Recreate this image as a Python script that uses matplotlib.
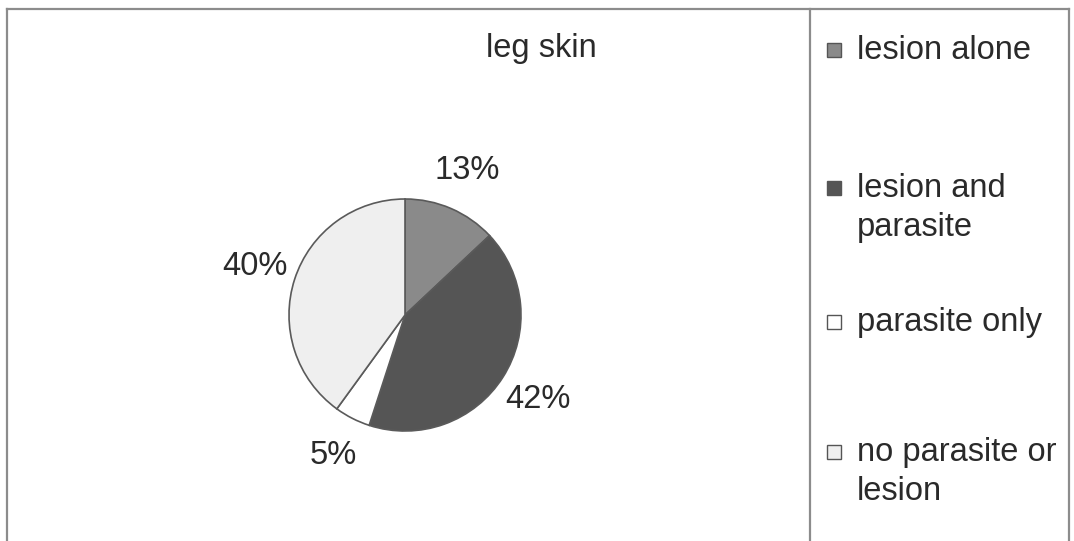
import matplotlib
matplotlib.use("Agg")
import matplotlib.pyplot as plt
from matplotlib.lines import Line2D

categories = ["lesion alone", "lesion and\nparasite", "parasite only", "no parasite or\nlesion"]
values = [13, 42, 5, 40]
colors = ["#8a8a8a", "#555555", "#ffffff", "#efefef"]
title = "leg skin"

plt.rcParams['font.family'] = ['Liberation Sans', 'DejaVu Sans']

W, H = 1074, 541
fig = plt.figure(figsize=(W / 100, H / 100), dpi=100)
fig.patch.set_facecolor("white")

def fx(px): return px / W
def fy(py): return 1 - py / H
border = "#8c8c8c"
fig.add_artist(Line2D([fx(7), fx(1069)], [fy(9), fy(9)], color=border, lw=1.6))
fig.add_artist(Line2D([fx(7), fx(7)], [fy(9), 0], color=border, lw=1.6))
fig.add_artist(Line2D([fx(1069), fx(1069)], [fy(9), 0], color=border, lw=1.6))
fig.add_artist(Line2D([fx(810), fx(810)], [fy(9), 0], color=border, lw=1.6))

# pie
cx, cy, r = 405, 315, 116
ax = fig.add_axes([fx(cx - r), fy(cy + r), 2 * r / W, 2 * r / H])
wedges, texts, autotexts = ax.pie(
    values, colors=colors, startangle=90, counterclock=False, radius=1,
    autopct=lambda p: f"{p:.0f}%", pctdistance=1.36,
    wedgeprops=dict(edgecolor="#5a5a5a", linewidth=1.2),
    textprops=dict(fontsize=23.5, color="#2a2a2a"))
ax.set_xlim(-1, 1)
ax.set_ylim(-1, 1)
ax.set_aspect("auto")
ax.axis("off")

fig.text(fx(541), fy(48), title, ha="center", va="center", fontsize=23.5, color="#2a2a2a")

# legend
leg_y = [50, 208, 322, 472]
for cat, col, y in zip(categories, colors, leg_y):
    fig.text(fx(857), fy(y), cat, ha="left", va="center", fontsize=23.5,
             color="#2a2a2a", linespacing=1.35)
    first_line_y = y - (20 if "\n" in cat else 0)
    fig.add_artist(plt.Rectangle((fx(827), fy(first_line_y + 7)), 14 / W, 14 / H,
                                 facecolor=col, edgecolor="#555555", lw=1.0,
                                 transform=fig.transFigure))

fig.savefig("out.png", dpi=100)
